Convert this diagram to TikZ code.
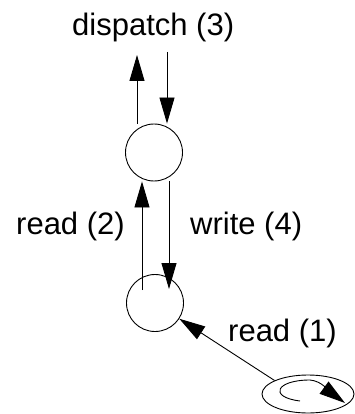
\documentclass[tikz,border=0pt]{standalone}
\usepackage{fontspec}
\setmainfont{Liberation Sans}
\usetikzlibrary{arrows.meta,shapes.geometric}
\begin{document}
\begin{tikzpicture}[x=1pt,y=-1pt,
    flow/.style={draw,line width=.9pt,-{Triangle[length=26pt,width=15pt]}},
    task/.style={draw,line width=.9pt,circle,minimum size=57pt,inner sep=0pt},
    lbl/.style={anchor=base west,inner sep=0pt,font=\fontsize{31}{37}\selectfont}]
  \useasboundingbox (0,0) rectangle (355,414);

  % dispatcher, connection and the source loop
  \node[task] (disp) at (154,152.5) {};
  \node[task] (conn) at (155,303) {};
  \node[draw,line width=.9pt,ellipse,minimum width=92pt,minimum height=38pt,inner sep=0pt] (src) at (308,394) {};

  \coordinate (dispOut) at (137,55);
  \coordinate (dispIn) at (167,52);
  \coordinate (readFrom) at (142,290);
  \coordinate (writeTo) at (169,289);

  \path[flow] (disp.north -| dispOut) -- (dispOut);
  \path[flow] (dispIn) -- (dispIn |- disp.north);
  \path[flow] (readFrom) -- (readFrom |- disp.south);
  \path[flow] (writeTo |- disp.south) -- (writeTo);
  \path[flow] (src.158) -- (conn);

  % the loop inside the source
  \path[flow] (300,401) .. controls (268,397) and (276,380) .. (310,380)
              .. controls (322,381) and (330,392) .. (345,403);

  \node[lbl] (dispLbl) at (72,36) {dispatch (3)};
  \node[lbl] (readLbl) at (16,234) {read (2)};
  \node[lbl] (writeLbl) at (190,234) {write (4)};
  \node[lbl] (srcLbl) at (228,341) {read (1)};
\end{tikzpicture}
\end{document}
